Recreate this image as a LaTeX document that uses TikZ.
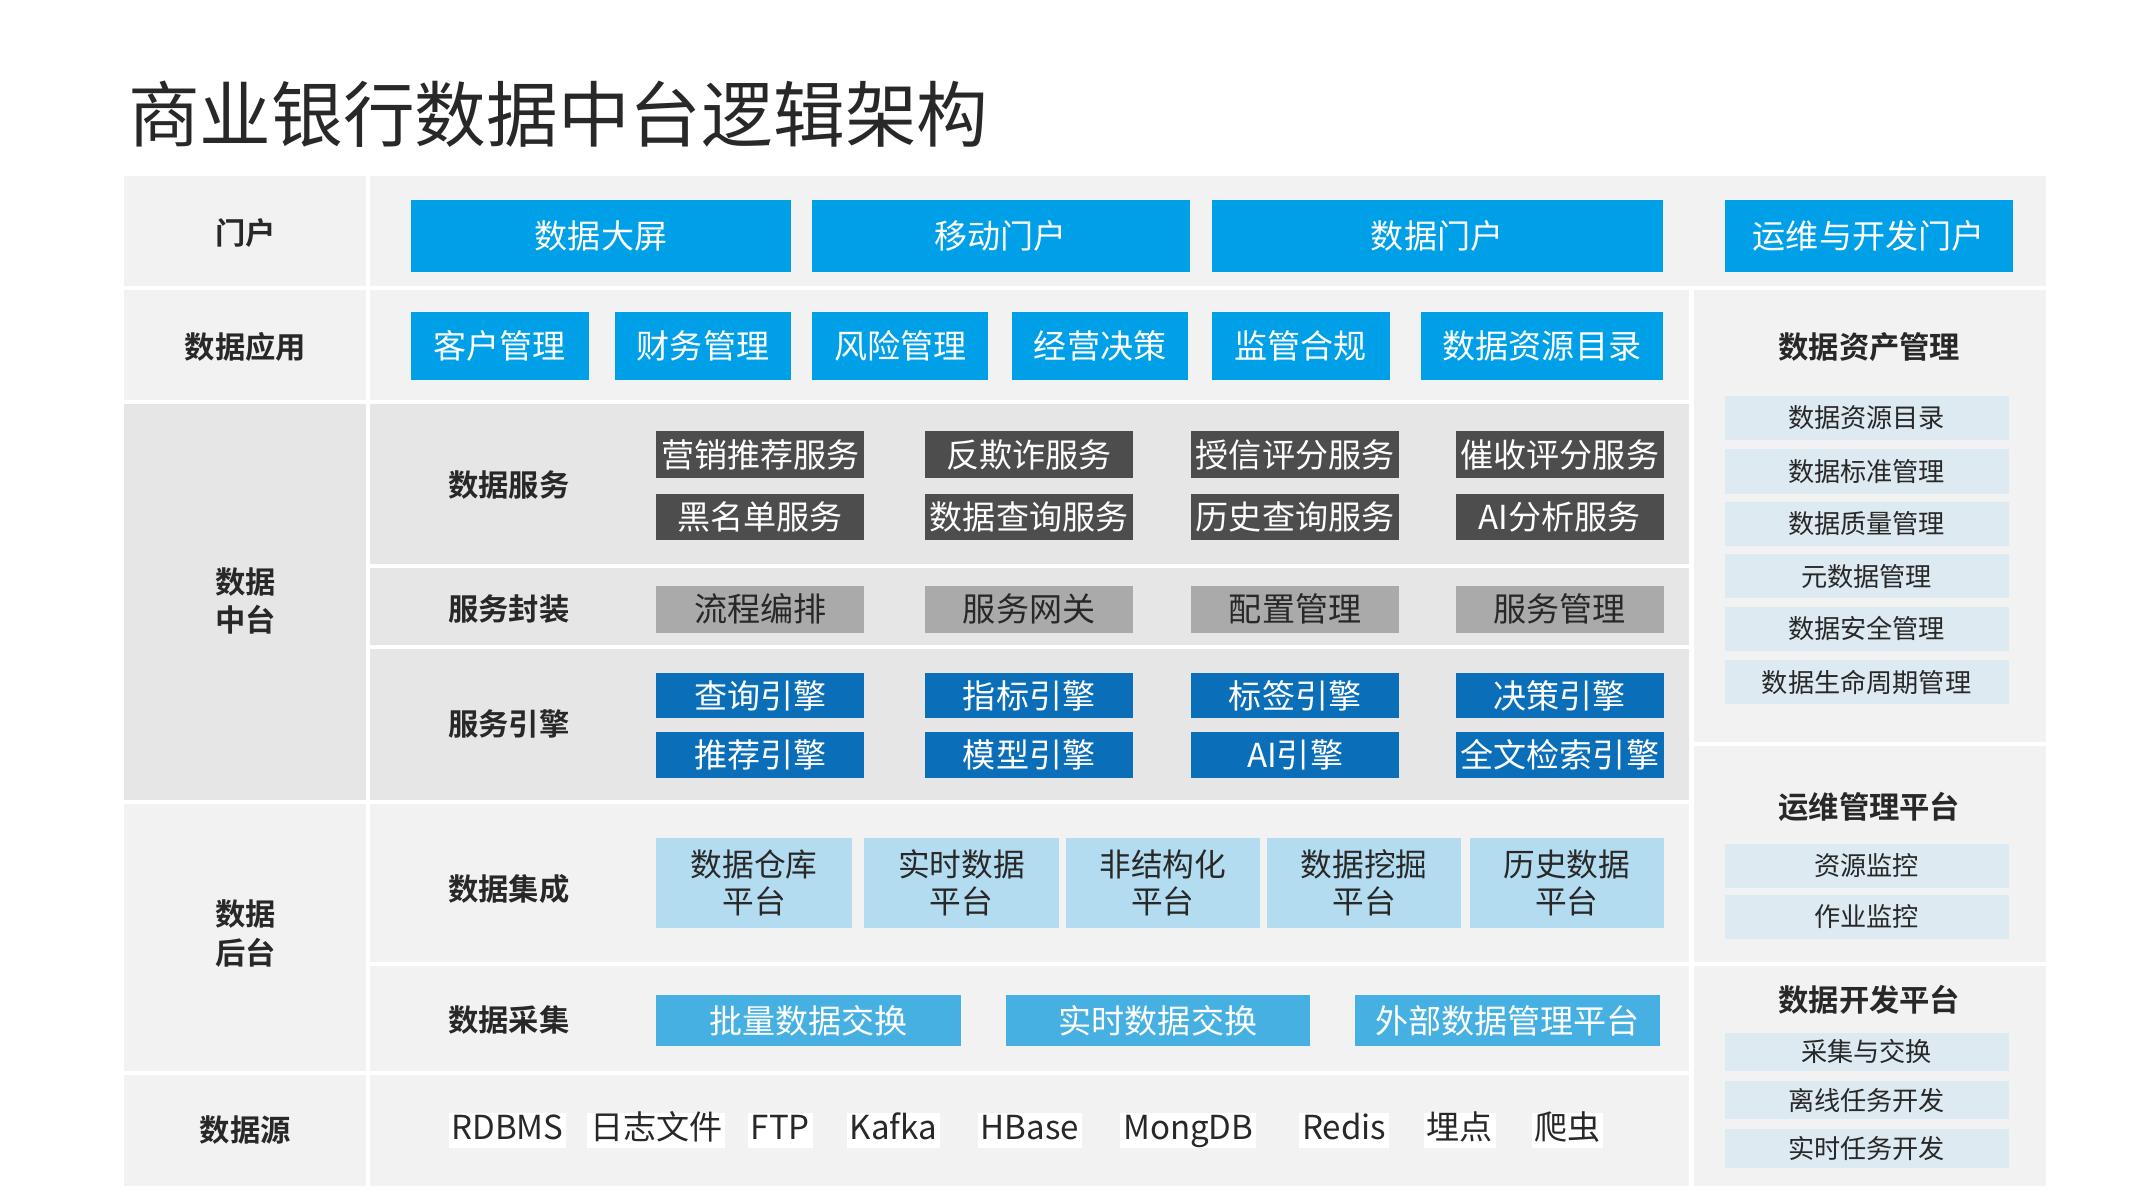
\documentclass[tikz,border=0pt]{standalone}
\usepackage{fontspec}
\setmainfont{Noto Sans CJK SC}
\newfontfamily\cjkb{Noto Sans CJK SC Bold}
\begin{document}
\begin{tikzpicture}[x=1pt,y=-1pt,
  base/.style={inner sep=0pt,outer sep=0pt,align=center},
  blue/.style={base,fill=bluec,text=white,font=\fontsize{24}{26}\selectfont},
  dark/.style={base,fill=darkc,text=white,font=\fontsize{24}{26}\selectfont},
  grey/.style={base,fill=greyc,text=textc,font=\fontsize{24}{26}\selectfont},
  eng/.style={base,fill=engc,text=white,font=\fontsize{24}{26}\selectfont},
  light/.style={base,fill=lightc,text=textc,font=\fontsize{23}{27}\selectfont},
  coll/.style={base,fill=collc,text=white,font=\fontsize{24}{26}\selectfont},
  side/.style={base,fill=sidec,text=textc,font=\fontsize{19}{22}\selectfont},
  src/.style={base,fill=white,text=textc,inner xsep=2pt,text height=19pt,text depth=6pt,font=\fontsize{24}{26}\selectfont},
  lab/.style={base,text=textc,font=\cjkb\fontsize{22}{28}\selectfont}]
\definecolor{bluec}{RGB}{0,160,233}
\definecolor{darkc}{RGB}{77,77,77}
\definecolor{greyc}{RGB}{170,170,170}
\definecolor{engc}{RGB}{11,110,185}
\definecolor{lightc}{RGB}{180,220,240}
\definecolor{collc}{RGB}{69,176,225}
\definecolor{sidec}{RGB}{221,234,242}
\definecolor{textc}{RGB}{40,40,40}
\definecolor{bg1}{RGB}{242,242,242}
\definecolor{bg2}{RGB}{230,230,230}
\newcommand\bx[7]{\node[#6,minimum width={#4-#2},minimum height={#5-#3}] (#1) at ({(#2+#4)/2},{(#3+#5)/2}) {#7};}
\useasboundingbox[fill=white] (0,0) rectangle (1548,870);
% title
\node[base,anchor=west,text=textc,font=\fontsize{52}{58}\selectfont] (title) at (93,83) {商业银行数据中台逻辑架构};
% backgrounds
\fill[bg1] (90,128) rectangle (1484,860);
\fill[bg2] (90,293) rectangle (1226,580);
\draw[white,line width=3pt] (90,209) -- (1484,209);
\draw[white,line width=3pt] (90,291.5) -- (1226,291.5);
\draw[white,line width=3pt] (268,410.5) -- (1226,410.5);
\draw[white,line width=3pt] (268,469.5) -- (1226,469.5);
\draw[white,line width=3pt] (90,581.5) -- (1226,581.5);
\draw[white,line width=3pt] (268,699) -- (1226,699);
\draw[white,line width=3pt] (90,778.5) -- (1226,778.5);
\draw[white,line width=3pt] (267,128) -- (267,860);
\draw[white,line width=3pt] (1227,210) -- (1227,860);
\draw[white,line width=3pt] (1227,539.5) -- (1484,539.5);
\draw[white,line width=3pt] (1227,699) -- (1484,699);
% left labels
\node[lab] (l1) at (178,169) {门户};
\node[lab] (l2) at (178,252) {数据应用};
\node[lab] (l3) at (178,436) {数据\\中台};
\node[lab] (l4) at (178,677) {数据\\后台};
\node[lab] (l5) at (178,820) {数据源};
\node[lab] (s1) at (369,352) {数据服务};
\node[lab] (s2) at (369,442) {服务封装};
\node[lab] (s3) at (369,525) {服务引擎};
\node[lab] (s4) at (369,645) {数据集成};
\node[lab] (s5) at (369,740) {数据采集};
% portal
\bx{p1}{298}{145}{574}{197}{blue}{数据大屏}
\bx{p2}{589}{145}{863}{197}{blue}{移动门户}
\bx{p3}{879}{145}{1206}{197}{blue}{数据门户}
\bx{p4}{1251}{145}{1460}{197}{blue}{运维与开发门户}
% apps
\bx{a1}{298}{226}{427}{276}{blue}{客户管理}
\bx{a2}{446}{226}{574}{276}{blue}{财务管理}
\bx{a3}{589}{226}{717}{276}{blue}{风险管理}
\bx{a4}{734}{226}{862}{276}{blue}{经营决策}
\bx{a5}{879}{226}{1008}{276}{blue}{监管合规}
\bx{a6}{1031}{226}{1206}{276}{blue}{数据资源目录}
% data services
\bx{d1}{476}{313}{627}{347}{dark}{营销推荐服务}
\bx{d2}{671}{313}{822}{347}{dark}{反欺诈服务}
\bx{d3}{864}{313}{1015}{347}{dark}{授信评分服务}
\bx{d4}{1056}{313}{1207}{347}{dark}{催收评分服务}
\bx{d5}{476}{358}{627}{392}{dark}{黑名单服务}
\bx{d6}{671}{358}{822}{392}{dark}{数据查询服务}
\bx{d7}{864}{358}{1015}{392}{dark}{历史查询服务}
\bx{d8}{1056}{358}{1207}{392}{dark}{AI分析服务}
% wrapping
\bx{w1}{476}{425}{627}{459}{grey}{流程编排}
\bx{w2}{671}{425}{822}{459}{grey}{服务网关}
\bx{w3}{864}{425}{1015}{459}{grey}{配置管理}
\bx{w4}{1056}{425}{1207}{459}{grey}{服务管理}
% engines
\bx{e1}{476}{488}{627}{521}{eng}{查询引擎}
\bx{e2}{671}{488}{822}{521}{eng}{指标引擎}
\bx{e3}{864}{488}{1015}{521}{eng}{标签引擎}
\bx{e4}{1056}{488}{1207}{521}{eng}{决策引擎}
\bx{e5}{476}{531}{627}{564}{eng}{推荐引擎}
\bx{e6}{671}{531}{822}{564}{eng}{模型引擎}
\bx{e7}{864}{531}{1015}{564}{eng}{AI引擎}
\bx{e8}{1056}{531}{1207}{564}{eng}{全文检索引擎}
% integration
\bx{i1}{476}{608}{618}{673}{light}{数据仓库\\平台}
\bx{i2}{627}{608}{768}{673}{light}{实时数据\\平台}
\bx{i3}{773}{608}{914}{673}{light}{非结构化\\平台}
\bx{i4}{919}{608}{1060}{673}{light}{数据挖掘\\平台}
\bx{i5}{1066}{608}{1207}{673}{light}{历史数据\\平台}
% collection
\bx{c1}{476}{722}{697}{759}{coll}{批量数据交换}
\bx{c2}{730}{722}{950}{759}{coll}{实时数据交换}
\bx{c3}{983}{722}{1204}{759}{coll}{外部数据管理平台}
% sources
\node[src] (r1) at (368,820) {RDBMS};
\node[src] (r2) at (476,820) {日志文件};
\node[src] (r3) at (566,820) {FTP};
\node[src] (r4) at (648,820) {Kafka};
\node[src] (r5) at (747,820) {HBase};
\node[src] (r6) at (862,820) {MongDB};
\node[src] (r7) at (975,820) {Redis};
\node[src] (r8) at (1059,820) {埋点};
\node[src] (r9) at (1137,820) {爬虫};
% right column
\node[lab] (g1) at (1356,252) {数据资产管理};
\bx{m1}{1251}{287}{1457}{319}{side}{数据资源目录}
\bx{m2}{1251}{326}{1457}{358}{side}{数据标准管理}
\bx{m3}{1251}{364}{1457}{396}{side}{数据质量管理}
\bx{m4}{1251}{402}{1457}{434}{side}{元数据管理}
\bx{m5}{1251}{440}{1457}{472}{side}{数据安全管理}
\bx{m6}{1251}{479}{1457}{511}{side}{数据生命周期管理}
\node[lab] (g2) at (1356,585) {运维管理平台};
\bx{o1}{1251}{612}{1457}{644}{side}{资源监控}
\bx{o2}{1251}{649}{1457}{681}{side}{作业监控}
\node[lab] (g3) at (1356,725) {数据开发平台};
\bx{v1}{1251}{749}{1457}{777}{side}{采集与交换}
\bx{v2}{1251}{784}{1457}{812}{side}{离线任务开发}
\bx{v3}{1251}{819}{1457}{847}{side}{实时任务开发}
\end{tikzpicture}
\end{document}
